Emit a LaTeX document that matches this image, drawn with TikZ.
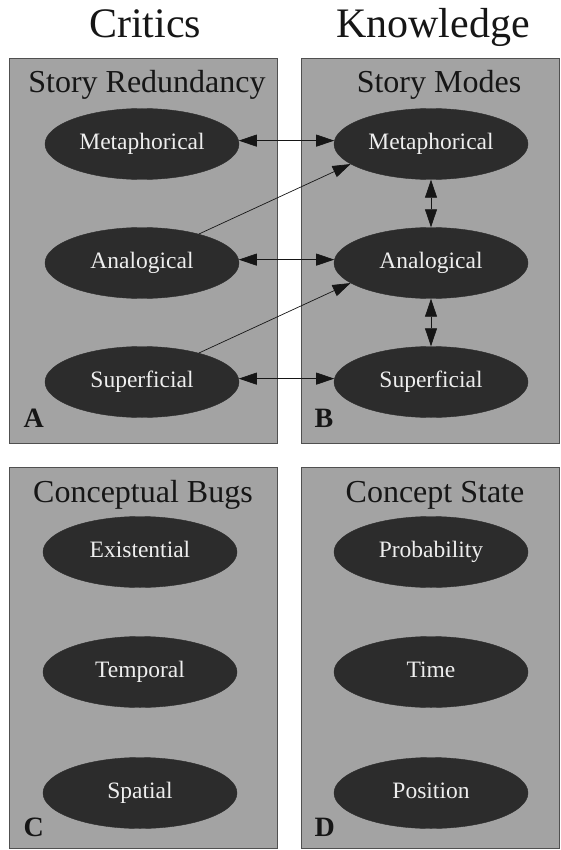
\documentclass[tikz,border=0pt]{standalone}
\usepackage{fontspec}
\setmainfont{Liberation Serif}
\usetikzlibrary{arrows.meta,shapes.geometric}
\definecolor{panelfill}{RGB}{163,163,163}
\definecolor{panelline}{RGB}{80,80,80}
\definecolor{bubblefill}{RGB}{44,44,44}
\definecolor{bubbletext}{RGB}{238,238,238}
\definecolor{ink}{RGB}{22,22,22}

\begin{document}
\begin{tikzpicture}[x=1pt,y=-1pt,
  panel/.style={draw=panelline, line width=0.8pt, fill=panelfill},
  bubble/.style={ellipse, fill=bubblefill, draw=bubblefill, minimum width=194pt,
    minimum height=71pt, inner sep=0pt, text=bubbletext,
    text height=14pt, text depth=3.4pt,
    font=\fontsize{23.5}{26}\selectfont},
  heading/.style={font=\fontsize{42}{46}\selectfont, text=ink, anchor=base},
  paneltitle/.style={font=\fontsize{32}{36}\selectfont, text=ink, anchor=base},
  letter/.style={font=\fontsize{28}{30}\selectfont\bfseries, text=ink, anchor=base west},
  link/.style={draw=ink, line width=0.7pt},
  both/.style={link, {Triangle[length=18pt,width=12pt]}-{Triangle[length=18pt,width=12pt]}},
  one/.style={link, -{Triangle[length=18pt,width=12pt]}}
]
\useasboundingbox (0,0) rectangle (560,850);

% column headings
\node[heading] (critics) at (145,38) {Critics};
\node[heading] (knowledge) at (433,38) {Knowledge};

% four panels
\draw[panel] (9,58) rectangle (277,443);
\draw[panel] (301,58) rectangle (559,443);
\draw[panel] (9,467) rectangle (277,848);
\draw[panel] (301,467) rectangle (559,848);

% panel titles
\node[paneltitle] (redund) at (147,93) {Story Redundancy};
\node[paneltitle] (modes) at (439,93) {Story Modes};
\node[paneltitle] (bugs) at (143,502) {Conceptual Bugs};
\node[paneltitle] (state) at (435,502) {Concept State};

% panel A: critics for story redundancy
\node[bubble] (metA) at (142,144) {Metaphorical};
\node[bubble] (anA)  at (142,263) {Analogical};
\node[bubble] (supA) at (142,382) {Superficial};

% panel B: story modes
\node[bubble] (metB) at (431,144) {Metaphorical};
\node[bubble] (anB)  at (431,263) {Analogical};
\node[bubble] (supB) at (431,382) {Superficial};

% panel C: conceptual bugs
\node[bubble] (exist) at (140,552) {Existential};
\node[bubble] (temp)  at (140,672) {Temporal};
\node[bubble] (spat)  at (140,793) {Spatial};

% panel D: concept state
\node[bubble] (prob) at (431,552) {Probability};
\node[bubble] (time) at (431,672) {Time};
\node[bubble] (pos)  at (431,793) {Position};

% connectors between the two columns run a little above the centres
\draw[both] (metA.2) -- (metB.178);
\draw[both] (anA.2) -- (anB.178);
\draw[both] (supA.2) -- (supB.178);
\draw[one] (anA.27) -- (metB.194);
\draw[one] (supA.27) -- (anB.194);
\draw[both] (metB) -- (anB);
\draw[both] (anB) -- (supB);

% panel letters
\node[letter] (la) at (20,427) {A};
\node[letter] (lb) at (311,427) {B};
\node[letter] (lc) at (20,836) {C};
\node[letter] (ld) at (311,836) {D};
\end{tikzpicture}
\end{document}
